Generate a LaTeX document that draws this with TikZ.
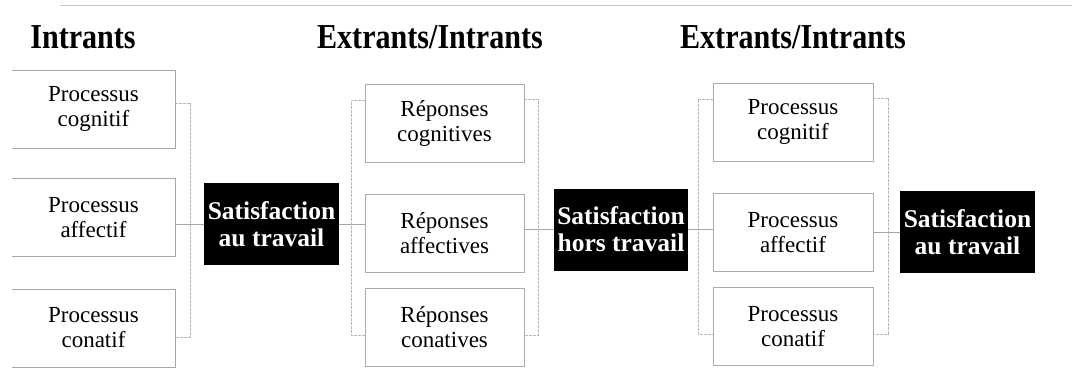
\documentclass[tikz,border=0pt]{standalone}
\usepackage{fontspec}
\setmainfont{Liberation Serif}
\newfontfamily\bodyfont{Liberation Serif}
\newfontfamily\headfont[FakeStretch=0.86]{Liberation Serif}
\begin{document}
\begin{tikzpicture}[x=1pt,y=-1pt,
  head/.style={anchor=base,font=\headfont\bfseries\fontsize{35}{38}\selectfont},
  item/.style={minimum width=#1,minimum height=78,inner sep=0pt,align=center,
    font=\bodyfont\fontsize{23}{25}\selectfont},
  item/.default=159,
  boxed/.style={item=#1,draw=gray!65,line width=0.6pt,fill=white},
  boxed/.default=159,
  satbox/.style={fill=black,text=white,minimum width=134,minimum height=82,
    inner sep=0pt,align=center,font=\bodyfont\bfseries\fontsize{25.5}{27}\selectfont},
  link/.style={draw=gray!70,line width=0.6pt},
  brace/.style={draw=gray!55,line width=0.6pt,dash pattern=on 3pt off 1pt},
  rule/.style={draw=gray!45,line width=0.7pt}]
\useasboundingbox (0,0) rectangle (1072,383);

% page rule along the top edge
\coordinate (ruleL) at (60,5);
\coordinate (ruleR) at (1072,5);
\draw[rule] (ruleL) -- (ruleR);

% column headings
\node[head] (h1) at (83,48) {Intrants};
\node[head] (h2) at (430,48) {Extrants/Intrants};
\node[head] (h3) at (793,48) {Extrants/Intrants};

% first column: inputs
\node[item=163] (a1) at (93.5,109) {Processus\\cognitif};
\node[item=163] (a2) at (93.5,217.5) {Processus\\affectif};
\node[item=163] (a3) at (93.5,328) {Processus\\conatif};
\foreach \n in {a1,a2,a3}
  \draw[link] (\n.north west) -- (\n.north east) -- (\n.south east) -- (\n.south west);

% first satisfaction box
\node[satbox,minimum width=135] (s1) at (271.5,224) {Satisfaction\\au travail};

% second column: responses
\node[boxed] (b1) at (444.5,123) {Réponses\\cognitives};
\node[boxed] (b2) at (444.5,233) {Réponses\\affectives};
\node[boxed] (b3) at (444.5,327) {Réponses\\conatives};

% second satisfaction box
\node[satbox] (s2) at (621,229.5) {Satisfaction\\hors travail};

% third column: processes
\node[boxed=160] (c1) at (793,122) {Processus\\cognitif};
\node[boxed=160] (c2) at (793,232.5) {Processus\\affectif};
\node[boxed=160] (c3) at (793,326.5) {Processus\\conatif};

% third satisfaction box
\node[satbox,minimum width=135] (s3) at (967.5,232) {Satisfaction\\au travail};

% bracket ends
\coordinate (p1t) at (190,103);  \coordinate (p1b) at (190,337);
\coordinate (q1t) at (351,100);  \coordinate (q1b) at (351,335);
\coordinate (q2t) at (538,99);   \coordinate (q2b) at (538,335);
\coordinate (r1t) at (698,99);   \coordinate (r1b) at (698,334);
\coordinate (r2t) at (888,98);   \coordinate (r2b) at (888,334);

% brackets gathering each column
\draw[brace] (a1.east |- p1t) -- (p1t) -- (p1b) -- (a3.east |- p1b);
\draw[brace] (b1.west |- q1t) -- (q1t) -- (q1b) -- (b3.west |- q1b);
\draw[brace] (b1.east |- q2t) -- (q2t) -- (q2b) -- (b3.east |- q2b);
\draw[brace] (c1.west |- r1t) -- (r1t) -- (r1b) -- (c3.west |- r1b);
\draw[brace] (c1.east |- r2t) -- (r2t) -- (r2b) -- (c3.east |- r2b);

% horizontal links through the middle row
\draw[link] (a2.east |- s1.west) -- (s1.west);
\draw[link] (s1.east) -- (s1.east -| b2.west);
\draw[link] (b2.east |- s2.west) -- (s2.west);
\draw[link] (s2.east) -- (s2.east -| c2.west);
\draw[link] (c2.east |- s3.west) -- (s3.west);
\end{tikzpicture}
\end{document}
